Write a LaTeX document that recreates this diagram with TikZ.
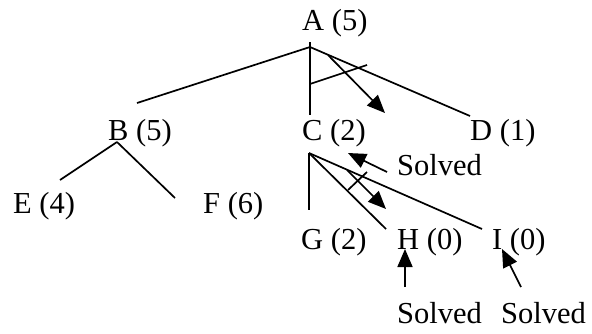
\documentclass[tikz,border=0pt]{standalone}
\usepackage{fontspec}
\setmainfont{Liberation Serif}
\usetikzlibrary{arrows.meta}
\begin{document}
\begin{tikzpicture}[x=1pt,y=-1pt,
  lbl/.style={anchor=base west,inner sep=0pt,font=\fontsize{30.5}{36}\selectfont},
  edge/.style={line width=1.7pt},
  arr/.style={line width=1.7pt,-{Triangle[length=18pt,width=15pt]}}]
\useasboundingbox (0,0) rectangle (592,333);
% labels
\node[lbl] (A) at (302,30) {A (5)};
\node[lbl] (B) at (108,140) {B (5)};
\node[lbl] (C) at (302,140) {C (2)};
\node[lbl] (D) at (470,140) {D (1)};
\node[lbl] (sC) at (397,175) {Solved};
\node[lbl] (E) at (13,213) {E (4)};
\node[lbl] (F) at (203,213) {F (6)};
\node[lbl] (G) at (301,249) {G (2)};
\node[lbl] (H) at (397,249) {H (0)};
\node[lbl] (I) at (492,249) {I (0)};
\node[lbl] (sH) at (397,323) {Solved};
\node[lbl] (sI) at (501,323) {Solved};
% coordinates
\coordinate (Aap) at (310,47);
\coordinate (Atop) at (310,42);
\coordinate (Bend) at (137,103);
\coordinate (Cend) at (310,115);
\coordinate (Dend) at (470,116);
\coordinate (and1a) at (310,84);
\coordinate (and1b) at (367,65);
\coordinate (ar1a) at (328,55);
\coordinate (ar1b) at (385,113);
\coordinate (Bap) at (117,142);
\coordinate (Eend) at (60,180);
\coordinate (Fend) at (175,198);
\coordinate (Cap) at (309,153);
\coordinate (Gend) at (309,210);
\coordinate (Hend) at (386,229);
\coordinate (Iend) at (482,229);
\coordinate (and2a) at (348,190);
\coordinate (and2b) at (367,172);
\coordinate (ar2a) at (347,170);
\coordinate (ar2b) at (386,209);
\coordinate (sCa) at (387,172);
\coordinate (sCb) at (348,153);
\coordinate (sHa) at (405,287);
\coordinate (sHb) at (405,249);
\coordinate (sIa) at (521,287);
\coordinate (sIb) at (502,249);
% edges
\draw[edge] (Atop) -- (Cend);
\draw[edge] (Aap) -- (Bend);
\draw[edge] (Aap) -- (Dend);
\draw[edge] (and1a) -- (and1b);
\draw[arr] (ar1a) -- (ar1b);
\draw[edge] (Bap) -- (Eend);
\draw[edge] (Bap) -- (Fend);
\draw[edge] (Cap) -- (Gend);
\draw[edge] (Cap) -- (Hend);
\draw[edge] (Cap) -- (Iend);
\draw[edge] (and2a) -- (and2b);
\draw[arr] (ar2a) -- (ar2b);
\draw[arr] (sCa) -- (sCb);
\draw[arr] (sHa) -- (sHb);
\draw[arr] (sIa) -- (sIb);
\end{tikzpicture}
\end{document}
